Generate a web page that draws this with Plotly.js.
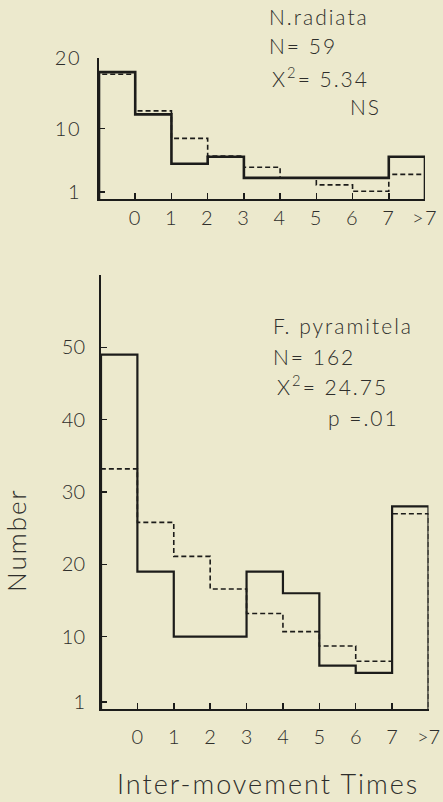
<!DOCTYPE html>
<html>
<head>
<meta charset="utf-8">
<script src="https://cdn.plot.ly/plotly-3.0.1.min.js"></script>
<style>
html, body { margin: 0; padding: 0; background: #ece9cd; }
#chart { width: 443px; height: 802px; }
#chart .annotation-text { letter-spacing: 2px; }
#chart .xtick text, #chart .ytick text { letter-spacing: 1.5px; }
</style>
</head>
<body>
<div id="chart"></div>
<script>
// ---- data ----
const binEdges = [-1, 0, 1, 2, 3, 4, 5, 6, 7, 8];
const xTickVals = [0, 1, 2, 3, 4, 5, 6, 7, 8];
const xTickText = ['0', '1', '2', '3', '4', '5', '6', '7', '>7'];
const radiataObserved = [18, 12, 5, 6, 3, 3, 3, 3, 6];
const radiataExpected = [17.7, 12.5, 8.6, 6.1, 4.5, 3.0, 2.0, 1.1, 3.5];
const pyramitelaObserved = [49, 19, 10, 10, 19, 16, 6, 5, 28];
const pyramitelaExpected = [33.2, 25.8, 21.1, 16.6, 13.2, 10.7, 8.7, 6.6, 27.0];
const radiataYTicks = [1, 10, 20];
const pyramitelaYTicks = [1, 10, 20, 30, 40, 50];
const radiataText = ['N.radiata', 'N= 59', 'X<sup>2</sup>= 5.34', 'NS'];
const pyramitelaText = ['F. pyramitela', 'N= 162', 'X<sup>2</sup>= 24.75', 'p =.01'];
const xTitle = 'Inter-movement Times';
const yTitle = 'Number';

// ---- helpers ----
const W = 443, H = 802;
const px = v => v / W;
const py = v => 1 - v / H;

function step(vals) {
  const x = [binEdges[0]], y = [0];
  vals.forEach((v, i) => { x.push(binEdges[i]); y.push(v); });
  const last = binEdges[binEdges.length - 1];
  x.push(last); y.push(vals[vals.length - 1]);
  x.push(last); y.push(0);
  return { x, y };
}

const ink = '#1c1c1a';
const txt = '#2e2e2b';
const bg = '#ece9cd';
const FONT = 'Lato, "Noto Sans", sans-serif';

function trace(vals, xa, ya, dashed, w) {
  const s = step(vals);
  return {
    type: 'scatter', mode: 'lines', x: s.x, y: s.y, xaxis: xa, yaxis: ya,
    line: { shape: 'hv', color: ink, width: dashed ? 1.6 : w, dash: dashed ? '5px,3px' : 'solid' },
    cliponaxis: false, hoverinfo: 'skip', showlegend: false
  };
}

const data = [
  trace(radiataExpected, 'x', 'y', true),
  trace(radiataObserved, 'x', 'y', false, 2.6),
  trace(pyramitelaExpected, 'x2', 'y2', true),
  trace(pyramitelaObserved, 'x2', 'y2', false, 2.2)
];

const tickFont = { family: FONT, size: 20, color: txt, weight: 300 };
const xCommon = {
  range: [-1, 8], tickmode: 'array', tickvals: xTickVals, ticktext: xTickText,
  showline: true, linecolor: ink, linewidth: 2, ticks: 'inside', ticklen: 6, tickwidth: 1.5, tickcolor: ink,
  showgrid: false, zeroline: false, tickfont: tickFont, fixedrange: true
};
const yCommon = {
  tickmode: 'array', showline: true, linecolor: ink, linewidth: 2, ticks: 'inside', ticklen: 6, tickwidth: 1.5, tickcolor: ink,
  showgrid: false, zeroline: false, tickfont: tickFont, fixedrange: true
};

const annFont = { family: FONT, size: 21, color: txt, weight: 300 };
const annotations = [];
[[267, 17], [267, 46], [270, 77], [348, 107]].forEach((p, i) => annotations.push({
  xref: 'paper', yref: 'paper', x: px(p[0]), y: py(p[1]), xanchor: 'left', yanchor: 'middle', align: 'left',
  text: radiataText[i], showarrow: false, font: annFont
}));
[[271, 325], [271, 356], [275, 385], [326, 417]].forEach((p, i) => annotations.push({
  xref: 'paper', yref: 'paper', x: px(p[0]), y: py(p[1]), xanchor: 'left', yanchor: 'middle', align: 'left',
  text: pyramitelaText[i], showarrow: false, font: annFont
}));
annotations.push({
  xref: 'paper', yref: 'paper', x: px(268), y: py(783), xanchor: 'center', yanchor: 'middle',
  text: xTitle, showarrow: false, font: { family: FONT, size: 27, color: txt, weight: 300 }
});
annotations.push({
  xref: 'paper', yref: 'paper', x: px(16), y: py(540), xanchor: 'center', yanchor: 'middle', textangle: -90,
  text: yTitle, showarrow: false, font: { family: FONT, size: 26, color: txt, weight: 300 }
});

const layout = {
  width: W, height: H,
  margin: { l: 0, r: 0, t: 0, b: 0 },
  paper_bgcolor: bg, plot_bgcolor: bg,
  showlegend: false,
  xaxis: Object.assign({}, xCommon, { domain: [px(99), px(425)], anchor: 'y', ticklabelstandoff: 0 }),
  yaxis: Object.assign({}, yCommon, { domain: [py(199), py(58)], anchor: 'x', range: [0, 20], tickvals: radiataYTicks, ticklabelstandoff: 12 }),
  xaxis2: Object.assign({}, xCommon, { domain: [px(101), px(428.5)], anchor: 'y2', ticklabelstandoff: 9 }),
  yaxis2: Object.assign({}, yCommon, { domain: [py(709), py(275)], anchor: 'x2', range: [0, 60], tickvals: pyramitelaYTicks, ticklabelstandoff: 10 }),
  annotations: annotations
};

Plotly.newPlot('chart', data, layout, { displayModeBar: false, staticPlot: true });
</script>
</body>
</html>
